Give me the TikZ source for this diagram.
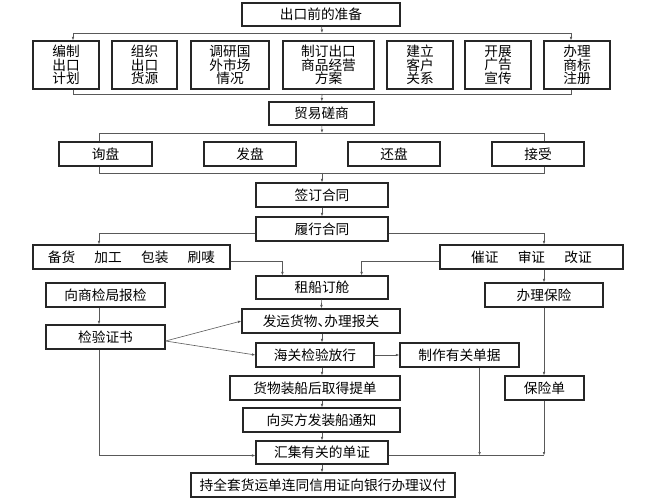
\documentclass[tikz,border=0pt]{standalone}
\usepackage{fontspec}
\newfontfamily\cjk{Noto Sans CJK SC}
\usetikzlibrary{arrows.meta}

\begin{document}
\begin{tikzpicture}[x=1bp,y=-1bp,
        caja/.style={draw=black!85,line width=1.15pt,inner sep=0pt,align=center,
            font=\cjk\fontsize{13.7bp}{13.4bp}\selectfont,minimum height=24bp},
        linea/.style={draw=black!65,line width=0.6pt},
        flecha/.style={linea,-{Latex[length=3.5pt,width=2.6pt]}}]
        %marco
        \useasboundingbox (0,0) rectangle (656,501);

        % Preparacion
        \node[caja,minimum width=158bp,minimum height=23bp] (prep) at (321,14.5) {出口前的准备};
        \node[caja,minimum width=66bp,minimum height=48bp] (plan) at (66,65) {编制\\出口\\计划};
        \node[caja,minimum width=65bp,minimum height=48bp] (goods) at (144.5,65) {组织\\出口\\货源};
        \node[caja,minimum width=78bp,minimum height=48bp] (survey) at (230,65) {调研国\\外市场\\情况};
        \node[caja,minimum width=91bp,minimum height=48bp] (scheme) at (328.5,65) {制订出口\\商品经营\\方案};
        \node[caja,minimum width=66bp,minimum height=48bp] (client) at (420,65) {建立\\客户\\关系};
        \node[caja,minimum width=66bp,minimum height=48bp] (ad) at (498,65) {开展\\广告\\宣传};
        \node[caja,minimum width=66bp,minimum height=48bp] (brand) at (577,65) {办理\\商标\\注册};

        % Negociacion
        \node[caja,minimum width=105bp,minimum height=23bp] (nego) at (321.5,113.5) {贸易磋商};
        \node[caja,minimum width=93bp] (inquiry) at (105.5,154) {询盘};
        \node[caja,minimum width=92bp] (offer) at (250,154) {发盘};
        \node[caja,minimum width=92bp] (counter) at (394,154) {还盘};
        \node[caja,minimum width=92bp] (accept) at (538,154) {接受};

        % Contrato
        \node[caja,minimum width=132bp] (sign) at (322,195) {签订合同};
        \node[caja,minimum width=132bp] (perform) at (322,229) {履行合同};
        \node[caja,minimum width=197bp] (stock) at (131.5,257) {备货\hspace{1.4em}加工\hspace{1.4em}包装\hspace{1.4em}刷唛};
        \node[caja,minimum width=183bp] (credit) at (531.5,257) {催证\hspace{1.4em}审证\hspace{1.4em}改证};
        \node[caja,minimum width=132bp,minimum height=23bp] (ship) at (322,287.5) {租船订舱};
        \node[caja,minimum width=118bp] (insure) at (544,295) {办理保险};
        \node[caja,minimum width=119bp] (apply) at (105.5,295) {向商检局报检};
        \node[caja,minimum width=119bp] (cert) at (105.5,337) {检验证书};

        % Embarque
        \node[caja,minimum width=158bp] (send) at (321,321) {发运货物\makebox[0.5em][l]{、}办理报关};
        \node[caja,minimum width=118bp] (customs) at (315,355) {海关检验放行};
        \node[caja,minimum width=119bp] (docs) at (459.5,355) {制作有关单据};
        \node[caja,minimum width=170bp] (lading) at (315,388) {货物装船后取得提单};
        \node[caja,minimum width=157bp] (notice) at (321.5,420) {向买方发装船通知};
        \node[caja,minimum width=79bp] (policy) at (544.5,388) {保险单};
        \node[caja,minimum width=132bp,minimum height=23bp] (collect) at (322,452.5) {汇集有关的单证};
        \node[caja,minimum width=264bp] (pay) at (323,485) {持全套货运单连同信用证向银行办理议付};

        % barras
        \coordinate (b1) at (322,33);
        \coordinate (b1l) at (73,33);
        \coordinate (b1r) at (571,33);
        \coordinate (b2) at (322,94);
        \coordinate (b3) at (322,133);
        \coordinate (b3l) at (99,133);
        \coordinate (b3r) at (544,133);
        \coordinate (b4) at (322,173);

        %conectores de arriba
        \draw[flecha] (prep) -- (b1);
        \draw[linea] (b1l) -- (b1r);
        \draw[flecha] (b1l) -- (b1l |- plan.north);
        \draw[flecha] (b1r) -- (b1r |- brand.north);
        \draw[linea] (b1l |- plan.south) -- (b1l |- b2) -- (b1r |- b2) -- (b1r |- brand.south);
        \draw[flecha] (b2) -- (nego);
        \draw[flecha] (nego) -- (b3);
        \draw[linea] (b3l |- inquiry.north) -- (b3l) -- (b3r) -- (b3r |- accept.north);
        \draw[linea] (b3l |- inquiry.south) -- (b3l |- b4) -- (b3r |- b4) -- (b3r |- accept.south);
        \draw[flecha] (b4) -- (sign);
        \draw[flecha] (sign) -- (perform);

        %ramas
        \draw[flecha] ([yshift=-4bp]perform.west) -| (b3l |- stock.north);
        \draw[flecha] ([yshift=-4bp]perform.east) -| (b3r |- credit.north);
        \draw[flecha] ([yshift=-4bp]stock.east) -| ([xshift=27bp]ship.north west);
        \draw[flecha] ([yshift=-4bp]credit.west) -| ([xshift=-27bp]ship.north east);
        \draw[flecha] (insure |- credit.south) -- (insure);
        \draw[flecha] (insure) -- (policy.north -| insure);
        \draw[flecha] (b3l |- apply.south) -- (b3l |- cert.north);
        \draw[flecha] ([yshift=-4bp]cert.east) -- (send.west);
        \draw[flecha] ([yshift=-4bp]cert.east) -- (customs.west);

        %columna central
        \draw[flecha] (ship) -- (send);
        \draw[flecha] (ship |- send.south) -- (ship |- customs.north);
        \draw[flecha] (ship |- customs.south) -- (ship |- lading.north);
        \draw[flecha] (ship |- lading.south) -- (ship |- notice.north);
        \draw[flecha] (ship |- notice.south) -- (collect);
        \draw[flecha] (collect) -- (ship |- pay.north);
        \draw[flecha] (customs) -- (docs);

        % documentos
        \coordinate (ce) at ([yshift=-3bp]collect.east);
        \coordinate (d1) at ([xshift=-40bp]docs.south east);
        \draw[flecha] (b3l |- cert.south) |- ([yshift=-3bp]collect.west);
        \draw[linea] (ce) -- (ce -| insure);
        \draw[flecha] (d1) -- (d1 |- ce);
        \draw[flecha] (policy.south -| insure) -- (ce -| insure);
    \end{tikzpicture}
\end{document}
